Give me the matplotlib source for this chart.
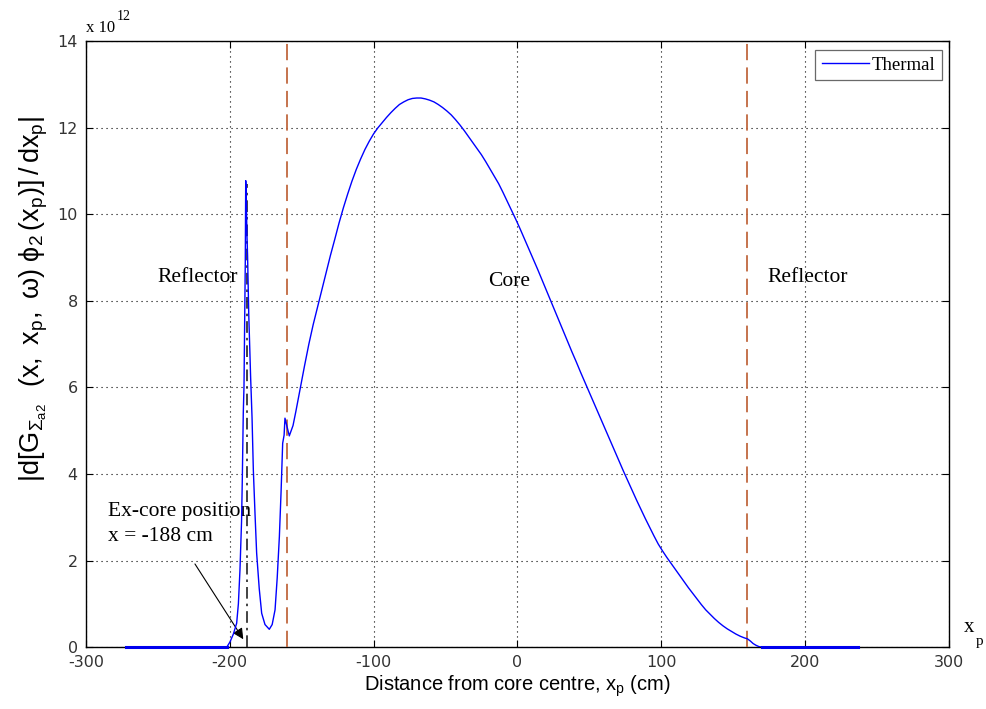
import numpy as np
import matplotlib
matplotlib.use("Agg")
import matplotlib.pyplot as plt

# ---- data (x in cm, y in units of 1e12) ----
x_left_zero = [-272, -250, -230, -210, -202]
y_left_zero = [0, 0, 0, 0, 0]

x_spike = [-199.8, -197.5, -195.2, -194.0, -192.9, -191.8, -191.3, -190.6, -190.1, -189.6, -189.2, -188.9,
           -188.5, -188.1, -187.6, -186.8, -185.5, -184.5, -183.6, -182.4, -181.3, -179.5, -177.8, -175.5,
           -172.5, -170.5, -168.5, -167.0, -165.5, -164.3, -163.2, -162.2, -161.6, -160.2]
y_spike = [0.12, 0.30, 0.55, 1.0, 1.78, 2.9, 3.82, 5.4, 6.02, 7.64, 8.9, 10.78,
           10.4, 9.6, 9.03, 7.7, 6.25, 5.3, 4.09, 3.05, 2.17, 1.35, 0.78, 0.52,
           0.41, 0.52, 0.86, 1.6, 2.55, 3.6, 4.71, 4.9, 5.29, 5.1]

x_main = [-158.6, -156, -154, -152, -150, -148, -145, -142, -139, -136, -133, -130, -127, -124,
          -121, -118, -115, -112, -109, -106, -103, -100, -97, -94, -91, -88, -85, -82, -79,
          -76, -73, -70, -67, -64, -61, -58, -55, -52, -49, -46, -43, -40, -37, -34, -31, -28,
          -25, -22, -19, -16, -13, -10, -7, -4, -1, 2, 5, 8, 11, 14, 17, 20, 23, 26, 29, 32,
          35, 38, 41, 44, 47, 50, 53, 56, 59, 62, 65, 68, 71, 74, 77, 80, 83, 86, 89, 92, 95,
          98, 101, 104, 107, 110, 113, 116, 119, 122, 125, 128, 131, 134, 137, 140, 143, 146,
          149, 152, 155, 158, 160, 162, 164, 166, 168]
y_main = [4.88, 5.12, 5.45, 5.8, 6.15, 6.5, 7.0, 7.45, 7.85, 8.25, 8.65, 9.05, 9.42, 9.8,
          10.15, 10.47, 10.77, 11.04, 11.28, 11.5, 11.69, 11.86, 12.0, 12.12, 12.24, 12.35,
          12.45, 12.54, 12.6, 12.65, 12.68, 12.69, 12.69, 12.67, 12.64, 12.6, 12.54, 12.47,
          12.39, 12.3, 12.19, 12.07, 11.94, 11.8, 11.66, 11.52, 11.38, 11.22, 11.05, 10.88,
          10.71, 10.51, 10.3, 10.09, 9.88, 9.66, 9.43, 9.2, 8.97, 8.74, 8.5, 8.26, 8.02, 7.78,
          7.54, 7.3, 7.06, 6.82, 6.59, 6.35, 6.12, 5.89, 5.66, 5.43, 5.2, 4.97, 4.74, 4.51,
          4.28, 4.05, 3.83, 3.61, 3.39, 3.18, 2.97, 2.77, 2.57, 2.38, 2.22, 2.07, 1.93, 1.79,
          1.65, 1.51, 1.37, 1.24, 1.11, 0.98, 0.86, 0.76, 0.66, 0.57, 0.49, 0.42, 0.36, 0.3,
          0.25, 0.21, 0.19, 0.14, 0.08, 0.04, 0.01]

x_right_zero = [170, 200, 220, 237]
y_right_zero = [0, 0, 0, 0]

x_vals = np.array(x_left_zero + x_spike + x_main + x_right_zero)
y_vals = np.array(y_left_zero + y_spike + y_main + y_right_zero)

excore_x = -188
excore_top = 10.7
boundaries = [-160, 160]

xticks = [-300, -200, -100, 0, 100, 200, 300]
yticks = [0, 2, 4, 6, 8, 10, 12, 14]

serif = ['Liberation Serif', 'DejaVu Serif']
plt.rcParams['mathtext.default'] = 'regular'
plt.rcParams['axes.unicode_minus'] = False

fig = plt.figure(figsize=(9.87, 7.09), dpi=100)
ax = fig.add_axes([0.0871, 0.0874, 0.8741, 0.8543])

ax.plot(x_vals, y_vals, color='#0000ff', lw=1.0, zorder=5, label='Thermal')
# thick zero segments
ax.plot(x_left_zero, y_left_zero, color='#0000ee', lw=2.2, zorder=6, clip_on=False)
ax.plot(x_right_zero, y_right_zero, color='#0000ee', lw=2.2, zorder=6, clip_on=False)

for b in boundaries:
    ax.plot([b, b], [0, 14], color='#c0683f', lw=1.3, dashes=(9, 4), zorder=4)
ax.plot([excore_x, excore_x], [0, excore_top], color='#222222', lw=1.2,
        dashes=(7, 3, 1.5, 3), zorder=4)

ax.set_xlim(-300, 300)
ax.set_ylim(0, 14)
ax.set_xticks(xticks)
ax.set_yticks(yticks)
ax.tick_params(direction='in', top=True, right=True, length=5, width=0.8,
               labelsize=11.5, pad=6)
for lab in ax.get_xticklabels() + ax.get_yticklabels():
    lab.set_color('#333333')
ax.grid(True, color='black', linestyle=(0, (1, 3.5)), lw=0.8)
for s in ax.spines.values():
    s.set_linewidth(1.0)

ax.set_xlabel('Distance from core centre, $x_p$ (cm)', fontsize=14.5,
              family=['Liberation Sans', 'DejaVu Sans'], labelpad=2)
ax.set_ylabel(r'$|d[G_{\Sigma_{a2}}\ \;(x,\;x_p,\;\omega)\;\phi_2\,(x_p)]\,/\,dx_p|$',
              fontsize=19.5, family=['Liberation Sans', 'DejaVu Sans'], labelpad=2)
ax.yaxis.set_label_coords(-0.042, 0.574)

# annotations
tfs = 15.5
ax.text(-250.4, 8.55, 'Reflector', fontsize=tfs, family=serif, va='center', ha='left')
ax.text(-20.4, 8.46, 'Core', fontsize=tfs, family=serif, va='center', ha='left')
ax.text(174, 8.54, 'Reflector', fontsize=tfs, family=serif, va='center', ha='left')
ax.text(-284.5, 3.13, 'Ex-core position', fontsize=tfs, family=serif, va='center', ha='left')
ax.text(-284.5, 2.55, 'x = -188 cm', fontsize=tfs, family=serif, va='center', ha='left')
ax.annotate('', xy=(-190.6, 0.18), xytext=(-224.2, 1.92),
            arrowprops=dict(arrowstyle='-|>', color='black', lw=0.8,
                            mutation_scale=16, shrinkA=0, shrinkB=0))

# exponent label and axis tag
fig.text(86 / 987, 1 - 28 / 709, 'x 10', fontsize=12, family=serif, va='center', ha='left')
fig.text(117 / 987, 1 - 17 / 709, '12', fontsize=10, family=serif, va='center', ha='left')
fig.text(964 / 987, 1 - 627 / 709, 'x', fontsize=15, family=serif, va='center', ha='left')
fig.text(976 / 987, 1 - 641 / 709, 'p', fontsize=11, family=serif, va='center', ha='left')

leg = ax.legend(loc='upper right', prop={'family': serif, 'size': 13.5},
                frameon=True, fancybox=False, edgecolor='#444444',
                handlelength=2.5, handletextpad=0.15, borderpad=0.35,
                borderaxespad=0, bbox_to_anchor=(0.9923, 0.9857))
leg.get_frame().set_linewidth(0.9)

fig.savefig('out.png', dpi=100)
